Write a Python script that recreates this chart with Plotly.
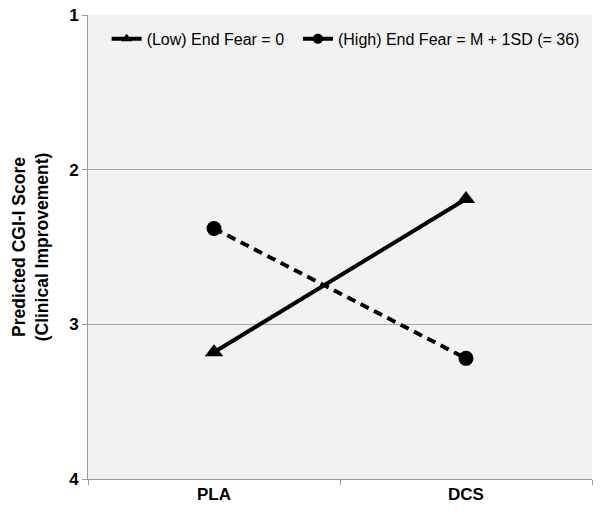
import plotly.graph_objects as go

categories = ["PLA", "DCS"]
low_fear = [3.18, 2.19]
high_fear = [2.38, 3.22]
y_ticks = [1, 2, 3, 4]
series_names = ["(Low) End Fear = 0\u00a0\u00a0", "(High) End Fear = M + 1SD (= 36)"]

FONT = "Arial, Liberation Sans, sans-serif"

fig = go.Figure()
fig.add_trace(go.Scatter(
    x=categories, y=low_fear, mode="lines+markers",
    name=series_names[0], showlegend=False, legendgroup="low",
    line=dict(color="black", width=4),
    marker=dict(symbol="triangle-up", size=16, color="black"),
))
fig.add_trace(go.Scatter(
    x=categories, y=high_fear, mode="lines+markers",
    name=series_names[1], showlegend=False, legendgroup="high",
    line=dict(color="black", width=4, dash="9px,6px"),
    marker=dict(symbol="circle", size=15, color="black"),
))
# legend-only entries with smaller symbols, as in the reference legend
fig.add_trace(go.Scatter(
    x=[None], y=[None], mode="lines+markers", name=series_names[0],
    legendgroup="low", line=dict(color="black", width=4),
    marker=dict(symbol="triangle-up", size=10, color="black"),
))
fig.add_trace(go.Scatter(
    x=[None], y=[None], mode="lines+markers", name=series_names[1],
    legendgroup="high", line=dict(color="black", width=4),
    marker=dict(symbol="circle", size=10, color="black"),
))

fig.update_layout(
    width=600, height=523,
    margin=dict(l=88, r=8, t=15, b=44),
    paper_bgcolor="white",
    plot_bgcolor="#f2f2f2",
    font=dict(family=FONT, color="black"),
    showlegend=True,
    legend=dict(
        orientation="h", x=0.037, y=0.985, xanchor="left", yanchor="top",
        bgcolor="rgba(0,0,0,0)", font=dict(size=16, family=FONT),
        tracegroupgap=0,
    ),
    xaxis=dict(
        type="category", tickson="boundaries", ticks="outside", ticklen=5,
        tickcolor="#999999", showline=True, linecolor="#999999", linewidth=1,
        showgrid=False, tickfont=dict(size=17, family=FONT, weight="bold"),
        range=[-0.5, 1.5], automargin=False, ticklabeloverflow="allow",
    ),
    yaxis=dict(
        range=[4, 1], tickvals=y_ticks, ticktext=[str(v) for v in y_ticks],
        ticks="outside", ticklen=5, tickcolor="#999999",
        showline=True, linecolor="#999999", linewidth=1,
        showgrid=True, gridcolor="#a6a6a6", gridwidth=1, zeroline=False,
        tickfont=dict(size=17, family=FONT, weight="bold"),
        automargin=False, ticklabeloverflow="allow",
        title=dict(text="Predicted CGI-I Score<br>(Clinical Improvement)",
                   font=dict(size=17.5, family=FONT, weight="bold"), standoff=16),
    ),
)

fig.write_html("out.html", config={"displayModeBar": False},
               post_script="document.body.style.margin='0';")
